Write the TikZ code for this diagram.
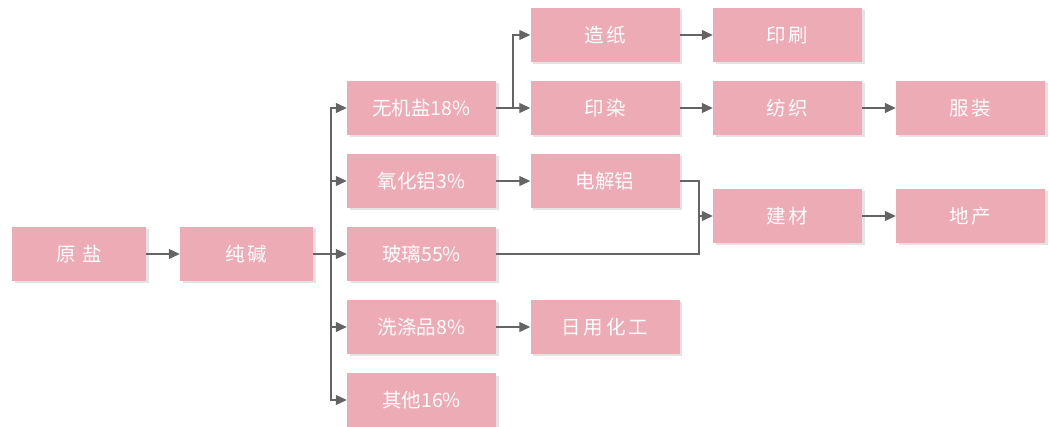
\documentclass[tikz,border=0pt]{standalone}
\usepackage{fontspec}
\newfontfamily\cjk{Noto Sans CJK SC}
\usetikzlibrary{arrows.meta,shadows}
\definecolor{boxpink}{RGB}{237,171,181}
\definecolor{lnk}{RGB}{100,100,100}
\tikzset{
  box/.style={fill=boxpink, draw=none, minimum height=54pt, minimum width=149pt,
    inner sep=0pt, text=white, font=\cjk\fontsize{19.5}{22}\selectfont,
    drop shadow={shadow xshift=2.5pt, shadow yshift=-2.5pt, opacity=0.18, fill=black!60}},
  ln/.style={draw=lnk, line width=1.2pt},
  arr/.style={ln, -{Triangle[length=11pt,width=10pt]}}
}
\begin{document}
\begin{tikzpicture}[x=1pt,y=-1pt]
\useasboundingbox (0,0) rectangle (1049,427);
\node[box, minimum width=134pt] (ys) at (79,254) {原\hspace{7pt}盐};
\node[box, minimum width=133pt] (cj) at (246.5,254) {纯\hspace{3pt}碱};
\node[box] (wj) at (421.5,108) {无机盐18\%};
\node[box] (yh) at (421.5,181) {氧化铝3\%};
\node[box] (bl) at (421.5,254) {玻璃55\%};
\node[box] (xd) at (421.5,327) {洗涤品8\%};
\node[box] (qt) at (421.5,400) {其他16\%};
\node[box] (zz) at (605,35) {造\hspace{3pt}纸};
\node[box] (yr) at (605,108) {印\hspace{3pt}染};
\node[box] (dj) at (605,181) {电解铝};
\node[box] (rh) at (605,327) {日\hspace{3pt}用\hspace{3pt}化\hspace{3pt}工};
\node[box] (ysh) at (787.5,35) {印\hspace{3pt}刷};
\node[box] (fz) at (787.5,108) {纺\hspace{3pt}织};
\node[box] (jc) at (787.5,216) {建\hspace{3pt}材};
\node[box] (fzh) at (970.5,108) {服\hspace{3pt}装};
\node[box] (dc) at (970.5,216) {地\hspace{3pt}产};
\coordinate (t) at (331,254);
\coordinate (u) at (513,108);
\coordinate (v) at (699,216);
\draw[arr] (ys) -- (cj);
\draw[ln] (cj.east) -- (t);
\draw[arr] (t) |- (wj.west);
\draw[arr] (t) |- (yh.west);
\draw[arr] (t) -- (bl.west);
\draw[arr] (t) |- (xd.west);
\draw[arr] (t) |- (qt.west);
\draw[ln] (wj.east) -- (u);
\draw[arr] (u) |- (zz.west);
\draw[arr] (u) -- (yr.west);
\draw[arr] (yh) -- (dj);
\draw[arr] (xd) -- (rh);
\draw[arr] (zz) -- (ysh);
\draw[arr] (yr) -- (fz);
\draw[arr] (fz) -- (fzh);
\draw[ln] (dj.east) -| (v);
\draw[ln] (bl.east) -| (v);
\draw[arr] (v) -- (jc.west);
\draw[arr] (jc) -- (dc);
\end{tikzpicture}
\end{document}
